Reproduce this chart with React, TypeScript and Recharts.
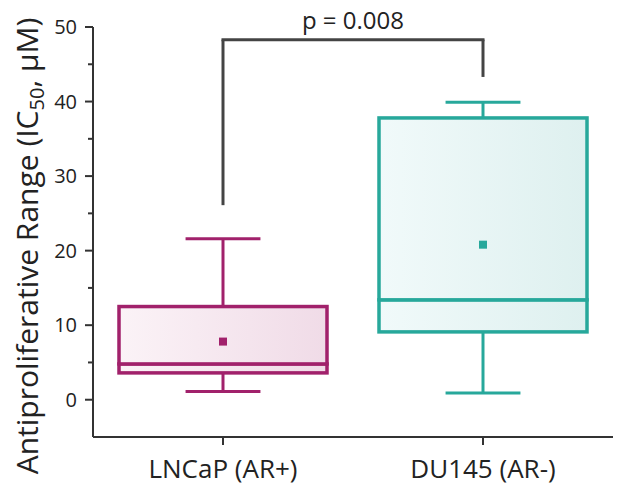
import { ComposedChart, Bar, Scatter, XAxis, YAxis, ReferenceLine, Label } from 'recharts';

const categories = ['LNCaP (AR+)', 'DU145 (AR-)'];
const whiskerLow = [1.1, 0.9];
const q1 = [3.6, 9.1];
const median = [4.8, 13.4];
const q3 = [12.5, 37.8];
const whiskerHigh = [21.6, 39.9];
const means = [7.8, 20.8];

const yTicks = [0, 5, 10, 15, 20, 25, 30, 35, 40, 45, 50];
// bracket: left leg end, top bar, right leg end
const bracketY = [26.1, 48.3, 43.3];
const pLabel = 'p = 0.008';

const strokeColors = ['#a1216b', '#27a89b'];
const fillFrom = ['#fbf3f7', '#f1fafa'];
const fillTo = ['#f0dbe7', '#def0ef'];
const axisColor = '#333';
const textColor = '#222';
const font = '"Open Sans", sans-serif';

const data = categories.map((name, i) => ({
  name,
  idx: i,
  base: whiskerLow[i],
  lowWhisker: q1[i] - whiskerLow[i],
  lowBox: median[i] - q1[i],
  highBox: q3[i] - median[i],
  highWhisker: whiskerHigh[i] - q3[i],
  mean: means[i],
}));

const whisker = (side: 'low' | 'high') => (props: any) => {
  const { x, y, width, height, payload } = props;
  const c = strokeColors[payload.idx];
  const cx = x + width / 2;
  const half = width * 0.18;
  const capY = side === 'low' ? y + height : y;
  return (
    <g>
      <line x1={cx} x2={cx} y1={y} y2={y + height} stroke={c} strokeWidth={3} />
      <line x1={cx - half} x2={cx + half} y1={capY} y2={capY} stroke={c} strokeWidth={3} />
    </g>
  );
};

const BoxShape = (props: any) => {
  const { x, y, width, height, payload } = props;
  return (
    <rect
      x={x}
      y={y}
      width={width}
      height={height}
      fill={`url(#boxFill${payload.idx})`}
      stroke={strokeColors[payload.idx]}
      strokeWidth={3.5}
    />
  );
};

const MeanShape = (props: any) => {
  const { cx, cy, payload } = props;
  return <rect x={cx - 4} y={cy - 4} width={8} height={8} fill={strokeColors[payload.idx]} />;
};

const YTick = (props: any) => {
  const { x, y, payload } = props;
  const major = payload.value % 10 === 0;
  return (
    <g>
      <line x1={x - (major ? 8 : 5)} x2={x} y1={y} y2={y} stroke={axisColor} strokeWidth={2} />
      {major && (
        <text x={x - 16} y={y} dy="0.35em" textAnchor="end" fill={textColor} fontSize={20} fontFamily={font}>
          {payload.value}
        </text>
      )}
    </g>
  );
};

const YTitle = (props: any) => {
  const { viewBox } = props;
  const x = viewBox.x + 27;
  const y = viewBox.y + viewBox.height / 2 + 14;
  return (
    <text
      x={x}
      y={y}
      transform={`rotate(-90, ${x}, ${y})`}
      textAnchor="middle"
      dy="0.35em"
      fill={textColor}
      fontSize={30}
      fontFamily={font}
    >
      <tspan>Antiproliferative Range (IC</tspan>
      <tspan dy={6} fontSize={20}>50</tspan>
      <tspan dy={-6}>, μM)</tspan>
    </text>
  );
};

export default function App() {
  return (
    <div style={{ position: 'absolute', left: 0, top: 0, background: '#fff' }}>
      <ComposedChart
        width={627}
        height={502}
        data={data}
        margin={{ top: 27, right: 14, left: 0, bottom: 0 }}
        barCategoryGap="10%"
      >
        <defs>
          {categories.map((_, i) => (
            <linearGradient key={i} id={`boxFill${i}`} x1="0" y1="0" x2="1" y2="0">
              <stop offset="0%" stopColor={fillFrom[i]} />
              <stop offset="100%" stopColor={fillTo[i]} />
            </linearGradient>
          ))}
        </defs>
        <XAxis
          dataKey="name"
          height={65}
          axisLine={{ stroke: axisColor, strokeWidth: 2 }}
          tickLine={{ stroke: axisColor, strokeWidth: 2 }}
          tickSize={8}
          tickMargin={15}
          tick={{ fill: textColor, fontSize: 26, fontFamily: font }}
        />
        <YAxis
          width={93}
          domain={[-5, 50]}
          ticks={yTicks}
          interval={0}
          tickLine={false}
          tickSize={0}
          tickMargin={0}
          axisLine={{ stroke: axisColor, strokeWidth: 2 }}
          tick={<YTick />}
        >
          <Label content={<YTitle />} />
        </YAxis>
        <Bar dataKey="base" stackId="box" fill="transparent" isAnimationActive={false} />
        <Bar dataKey="lowWhisker" stackId="box" shape={whisker('low')} isAnimationActive={false} />
        <Bar dataKey="lowBox" stackId="box" shape={<BoxShape />} isAnimationActive={false} />
        <Bar dataKey="highBox" stackId="box" shape={<BoxShape />} isAnimationActive={false} />
        <Bar dataKey="highWhisker" stackId="box" shape={whisker('high')} isAnimationActive={false} />
        <Scatter dataKey="mean" shape={<MeanShape />} isAnimationActive={false} />
        <ReferenceLine
          segment={[{ x: categories[0], y: bracketY[0] }, { x: categories[0], y: bracketY[1] }]}
          stroke="#444"
          strokeWidth={3}
        />
        <ReferenceLine
          segment={[{ x: categories[0], y: bracketY[1] }, { x: categories[1], y: bracketY[1] }]}
          stroke="#444"
          strokeWidth={3}
          strokeLinecap="square"
        >
          <Label value={pLabel} position="top" offset={11} fill={textColor} fontSize={24} fontFamily={font} />
        </ReferenceLine>
        <ReferenceLine
          segment={[{ x: categories[1], y: bracketY[1] }, { x: categories[1], y: bracketY[2] }]}
          stroke="#444"
          strokeWidth={3}
        />
      </ComposedChart>
    </div>
  );
}
